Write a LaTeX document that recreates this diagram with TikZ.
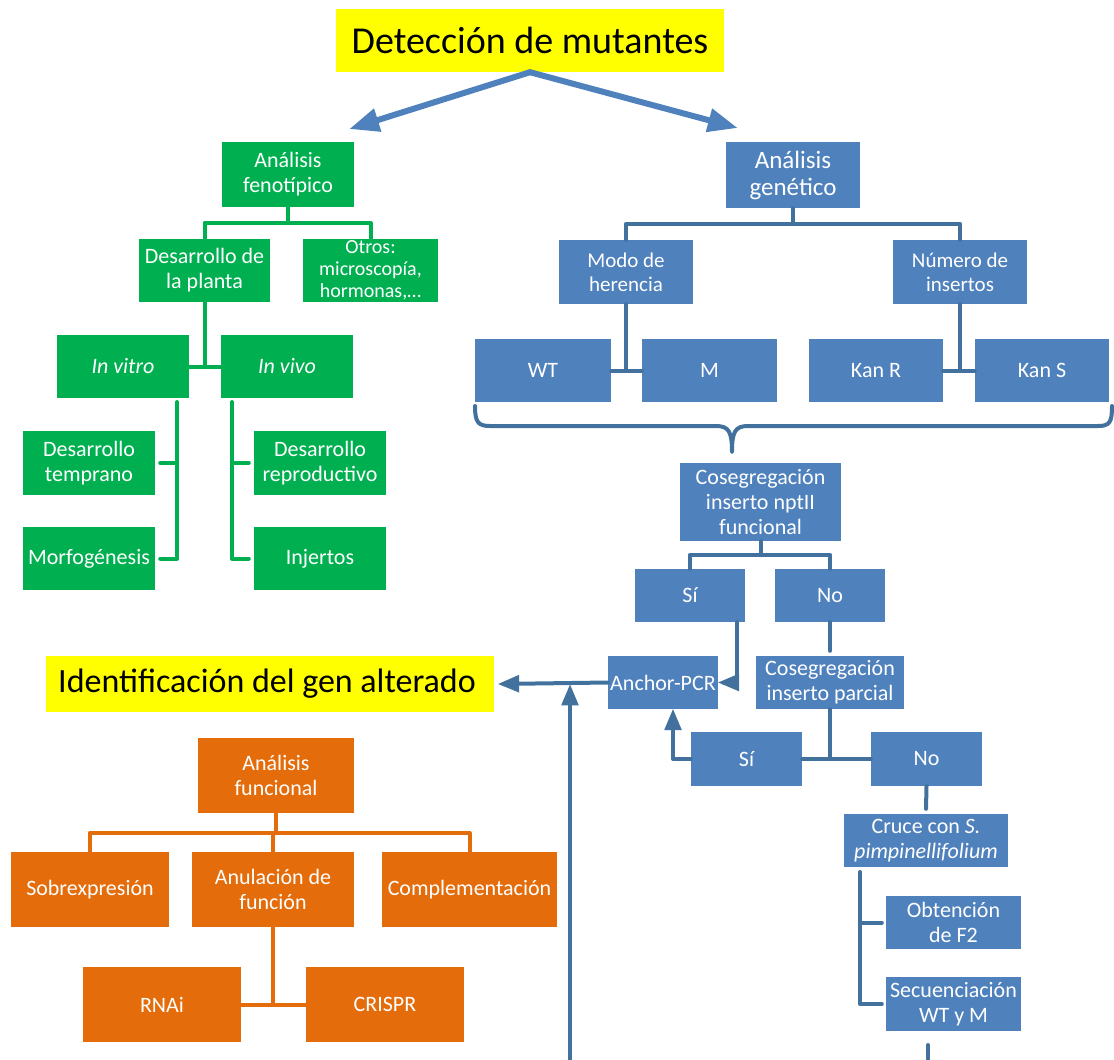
\documentclass[tikz,border=0pt]{standalone}
\usepackage{fontspec}
\setmainfont{Carlito}
\usetikzlibrary{arrows}
\definecolor{verde}{HTML}{00B050}
\definecolor{azul}{HTML}{4F81BD}
\definecolor{azulosc}{HTML}{41719C}
\definecolor{naranja}{HTML}{E46C0A}
\definecolor{amarillo}{HTML}{FFFF00}
\begin{document}
\begin{tikzpicture}[line cap=round,line join=round,>=triangle 45,x=1pt,y=-1pt,
  caja/.style={rectangle,inner sep=0pt,text=white,align=center,font=\fontsize{22}{25}\selectfont},
  gbox/.style 2 args={caja,fill=verde,minimum width=#1,minimum height=#2},
  bbox/.style 2 args={caja,fill=azul,minimum width=#1,minimum height=#2},
  obox/.style 2 args={caja,fill=naranja,minimum width=#1,minimum height=#2},
  ybox/.style 2 args={rectangle,inner sep=0pt,fill=amarillo,text=black,minimum width=#1,minimum height=#2},
  gline/.style={draw=verde,line width=4pt},
  bline/.style={draw=azulosc,line width=4pt},
  oline/.style={draw=naranja,line width=4pt},
  tline/.style={draw=azul,line width=6pt}]
\useasboundingbox (0,0) rectangle (1114,1060);
% titulos
\node[ybox={388}{63},font=\fontsize{38}{40}\selectfont] (tit1) at (530,40.5) {Detección de mutantes};
\node[ybox={448}{56},font=\fontsize{34}{36}\selectfont] (tit2) at (270,684) {\hspace*{-6pt}Identificación del gen alterado};
% analisis fenotipico
\node[gbox={132}{65}] (fen) at (288,174.5) {Análisis\\fenotípico};
\node[gbox={131}{63}] (des) at (204.5,270.5) {Desarrollo de\\la planta};
\node[gbox={135}{63},font=\fontsize{20}{22}\selectfont] (otros) at (370.5,270.5) {Otros:\\microscopía,\\hormonas,…};
\node[gbox={132}{63}] (vitro) at (123,366.5) {\textit{In vitro}};
\node[gbox={132}{63}] (vivo) at (287,366.5) {\textit{In vivo}};
\node[gbox={132}{64}] (temp) at (89,463) {Desarrollo\\temprano};
\node[gbox={132}{63}] (morf) at (89,558.5) {Morfogénesis};
\node[gbox={132}{64}] (repro) at (320,463) {Desarrollo\\reproductivo};
\node[gbox={132}{63}] (injer) at (320,558.5) {Injertos};
\coordinate (vitrob) at (177,402);
\coordinate (vivob) at (232,402);
\draw[gline] (fen.south) -- ++(0,16);
\draw[gline] (des.north) -- ++(0,-16) -| (otros.north);
\draw[gline] (des.south) -- (des.south |- vitro.east);
\draw[gline] (vitro.east) -- (vivo.west);
\draw[gline] ([xshift=5pt]temp.east) -- ++(17,0);
\draw[gline] ([xshift=5pt]morf.east) -| (vitrob);
\draw[gline] ([xshift=-5pt]repro.west) -- ++(-17,0);
\draw[gline] ([xshift=-5pt]injer.west) -| (vivob);
% analisis genetico
\node[bbox={134}{66},font=\fontsize{25}{27}\selectfont] (gen) at (793,175) {Análisis\\genético};
\node[bbox={134}{64},font=\fontsize{21}{24}\selectfont] (modo) at (626,272) {Modo de\\herencia};
\node[bbox={134}{64},font=\fontsize{21}{24}\selectfont] (num) at (960,272) {Número de\\insertos};
\node[bbox={136}{63}] (wt) at (543,370.5) {WT};
\node[bbox={135}{63}] (mm) at (709.5,370.5) {M};
\node[bbox={134}{63}] (kr) at (876,370.5) {Kan R};
\node[bbox={134}{63}] (ks) at (1042,370.5) {Kan S};
\node[bbox={161}{78}] (cos) at (760.5,502) {Cosegregación\\inserto nptII\\funcional};
\node[bbox={110}{53}] (si1) at (690,595.5) {Sí};
\node[bbox={110}{53}] (no1) at (830,595.5) {No};
\node[bbox={110}{53}] (anc) at (663,682.5) {Anchor-PCR};
\node[bbox={148}{53}] (par) at (830,682.5) {Cosegregación\\inserto parcial};
\node[bbox={111}{54}] (si2) at (746.5,759) {Sí};
\node[bbox={111}{54}] (no2) at (926.5,759) {No};
\node[bbox={164}{53}] (cru) at (926,840.5) {Cruce con \textit{S.}\\\textit{pimpinellifolium}};
\node[bbox={135}{53}] (obt) at (953.5,922.5) {Obtención\\de F2};
\node[bbox={135}{54}] (sec) at (953.5,1004) {Secuenciación\\WT y M};
\coordinate (llave) at (732,452);
\coordinate (crub) at (860,872);
\coordinate (sigue) at (928,1060);
\coordinate (subida) at (570,1060);
\draw[bline] (gen.south) -- ++(0,16);
\draw[bline] (modo.north) -- ++(0,-16) -| (num.north);
\draw[bline] (modo.south) -- (modo.south |- wt.east);
\draw[bline] (wt.east) -- (mm.west);
\draw[bline] (num.south) -- (num.south |- kr.east);
\draw[bline] (kr.east) -- (ks.west);
\draw[bline] (475,406) .. controls (475,422) and (478,426) .. (490,426) -- (716,426)
  .. controls (729,426) and (732,432) .. (llave) .. controls (732,432) and (735,426) .. (748,426)
  -- (1098,426) .. controls (1110,426) and (1112,422) .. (1112,406);
\draw[bline] (cos.south) -- ++(0,14);
\draw[bline] (si1.north) -- ++(0,-14) -| (no1.north);
\draw[bline,->] ([xshift=47pt]si1.south) |- (anc.east);
\draw[bline] (no1.south) -- ([yshift=5pt]par.north);
\draw[bline,->] (anc.west) -- ([xshift=4pt]tit2.east);
\draw[bline,->] (subida) -- ([yshift=-2pt]subida |- anc.west);
\draw[bline] (par.south) -- (par.south |- si2.east);
\draw[bline] (si2.east) -- (no2.west);
\draw[bline,->] (si2.west) -| ([xshift=10pt]anc.south);
\draw[bline] (no2.south) -- ([yshift=5pt]cru.north);
\draw[bline] ([xshift=-4pt]obt.west) -- ++(-22,0);
\draw[bline] ([xshift=-4pt]sec.west) -| (crub);
\draw[bline] (sigue) -- ++(0,-15);
% analisis funcional
\node[obox={156}{75}] (fun) at (276,775.5) {Análisis\\funcional};
\node[obox={158}{75}] (sob) at (90,889.5) {Sobrexpresión};
\node[obox={162}{75}] (anu) at (273,889.5) {Anulación de\\función};
\node[obox={175}{75}] (com) at (469.5,889.5) {Complementación};
\node[obox={158}{75}] (rna) at (162,1004.5) {RNAi};
\node[obox={158}{75}] (cri) at (385,1004.5) {CRISPR};
\draw[oline] (fun.south) -- ++(0,20);
\draw[oline] (sob.north) -- ++(0,-19) -| (com.north);
\draw[oline] (anu.north) -- ++(0,-19);
\draw[oline] (anu.south) -- (anu.south |- rna.east);
\draw[oline] (rna.east) -- (cri.west);
% flechas del titulo
\draw[tline,->] (tit1.south) -- ([shift={(62,-13)}]fen.north);
\draw[tline,->] (tit1.south) -- ([shift={(-56,-14)}]gen.north);
\end{tikzpicture}
\end{document}
